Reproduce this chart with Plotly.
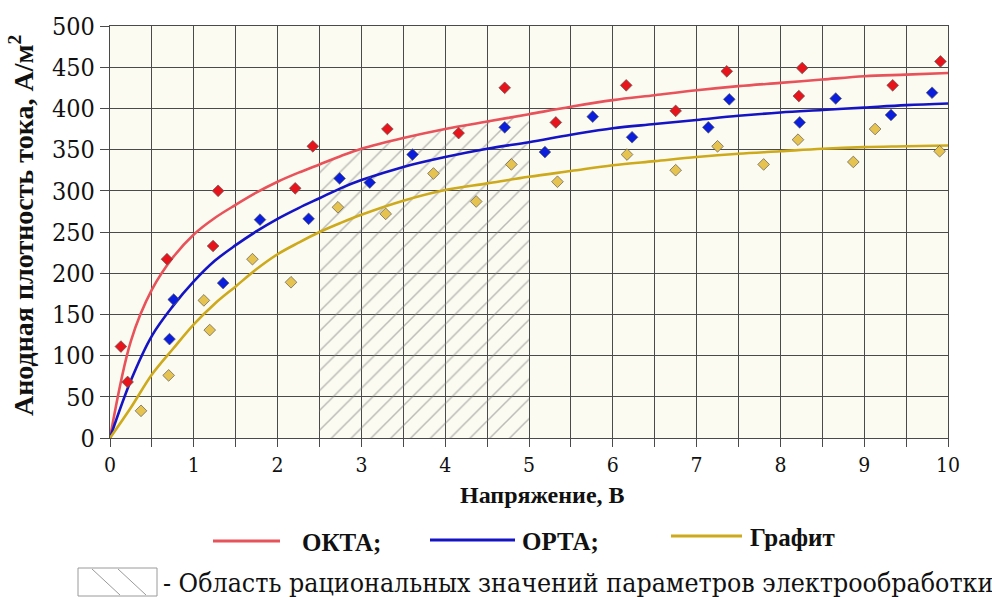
import plotly.graph_objects as go

# Measured points: anode current density (A/m^2) vs voltage (V)
okta_x = [0.13, 0.21, 0.68, 1.23, 1.29, 2.21, 2.42, 3.31, 4.16, 4.71, 5.32, 6.16, 6.75, 7.36, 8.22, 8.26, 9.34, 9.91]
okta_y = [111, 68, 217, 233, 300, 303, 354, 375, 370, 425, 383, 428, 397, 445, 415, 449, 428, 457]

orta_x = [0.71, 0.76, 1.35, 1.79, 2.37, 2.74, 3.10, 3.61, 4.71, 5.19, 5.76, 6.23, 7.14, 7.39, 8.23, 8.66, 9.32, 9.81]
orta_y = [120, 168, 188, 265, 266, 315, 310, 344, 377, 347, 390, 365, 377, 411, 383, 412, 392, 419]

graf_x = [0.37, 0.70, 1.12, 1.19, 1.70, 2.16, 2.72, 3.29, 3.86, 4.37, 4.79, 5.34, 6.17, 6.75, 7.25, 7.80, 8.21, 8.87, 9.13, 9.90]
graf_y = [33, 76, 167, 131, 217, 189, 280, 272, 321, 287, 332, 311, 344, 325, 354, 332, 362, 335, 375, 348]

# Approximating curves
curve_x = [0, 0.25, 0.5, 0.75, 1, 1.25, 1.5, 1.75, 2, 2.25, 2.5, 2.75, 3,
           3.5, 4, 4.5, 5, 5.5, 6, 6.5, 7, 7.5, 8, 8.5, 9, 9.5, 10]
okta_fit = [0, 118, 180, 219, 247, 267, 283, 298, 311, 322, 332, 342, 351,
            364, 375, 384, 393, 402, 410, 416, 422, 427, 431, 435, 439, 441, 443]
orta_fit = [0, 70, 124, 160, 190, 215, 234, 251, 266, 279, 291, 303, 313,
            329, 341, 351, 359, 368, 376, 381, 386, 391, 395, 398, 401, 404, 406]
graf_fit = [0, 37, 77, 108, 138, 163, 184, 205, 223, 237, 250, 261, 271,
            288, 301, 309, 317, 324, 331, 336, 341, 345, 348, 351, 353, 354, 355]

# Rational range of electro-treatment voltage
zone_lo, zone_hi = 2.5, 5.0

x_ticks = list(range(0, 11))
y_ticks = list(range(0, 501, 50))

FONT_B = "Liberation Serif, Times New Roman, serif"
FONT_R = "DejaVu Serif Condensed, DejaVu Serif, serif"
RED_LINE, RED_PT = "#E8525A", "#E8141B"
BLUE_LINE, BLUE_PT = "#1414C4", "#0A1EDC"
GOLD_LINE, GOLD_PT = "#CDA91C", "#E6C34E"

fig = go.Figure()

# hatched zone under the OKTA curve
zx = [x for x in curve_x if zone_lo <= x <= zone_hi]
zy = [y for x, y in zip(curve_x, okta_fit) if zone_lo <= x <= zone_hi]
fig.add_trace(go.Scatter(
    x=[zone_lo] + zx + [zone_hi, zone_lo],
    y=[0] + zy + [0, 0],
    mode="lines", line=dict(width=0, color="rgba(0,0,0,0)"),
    fill="toself", fillcolor="rgba(0,0,0,0)",
    fillpattern=dict(shape="/", size=14, solidity=0.11,
                     fgcolor="#7c7c7c", bgcolor="rgba(0,0,0,0)"),
    hoverinfo="skip", showlegend=False))

for xs, ys, col in [(curve_x, okta_fit, RED_LINE), (curve_x, orta_fit, BLUE_LINE),
                    (curve_x, graf_fit, GOLD_LINE)]:
    fig.add_trace(go.Scatter(x=xs, y=ys, mode="lines",
                             line=dict(color=col, width=2.6, shape="spline", smoothing=1.0),
                             showlegend=False))

for xs, ys, col in [(okta_x, okta_y, RED_PT), (orta_x, orta_y, BLUE_PT), (graf_x, graf_y, GOLD_PT)]:
    fig.add_trace(go.Scatter(x=xs, y=ys, mode="markers",
                             marker=dict(symbol="diamond", size=9, color=col,
                                         line=dict(color="#5a5a5a", width=0.7)),
                             showlegend=False))

GRID = "#4a4a4a"
fig.update_xaxes(range=[0, 10], tickvals=x_ticks, ticktext=[str(v) for v in x_ticks],
                 showgrid=True, gridcolor=GRID, gridwidth=1.2,
                 ticks="outside", ticklen=8, tickcolor=GRID, tickwidth=1,
                 minor=dict(dtick=0.5, showgrid=True, gridcolor=GRID, gridwidth=1.2,
                            ticks="outside", ticklen=8, tickcolor=GRID),
                 showline=True, linecolor=GRID, linewidth=1.2, mirror=True,
                 zeroline=False,
                 tickfont=dict(family=FONT_R, size=21, color="#111"))
fig.update_yaxes(range=[0, 500], tickvals=y_ticks, ticktext=[str(v) for v in y_ticks],
                 showgrid=True, gridcolor=GRID, gridwidth=1.2,
                 ticks="outside", ticklen=9, tickcolor=GRID, tickwidth=1,
                 showline=True, linecolor=GRID, linewidth=1.2, mirror=True,
                 zeroline=False,
                 tickfont=dict(family=FONT_R, size=25, color="#111"))

W, H = 992, 597
L, R, T, B = 110, 44, 26, 159
pw, ph = W - L - R, H - T - B


def px(xp):
    return (xp - L) / pw


def py(yp):
    return (H - B - yp) / ph


ann = []
ann.append(dict(text="<b>Анодная плотность тока, А/м<sup>2</sup></b>", textangle=-90,
                x=px(21), y=py(226), xref="paper", yref="paper", showarrow=False,
                xanchor="center", yanchor="middle",
                font=dict(family=FONT_B, size=28, color="#111")))
ann.append(dict(text="<b>Напряжение, В</b>", x=px(542), y=py(495), xref="paper", yref="paper",
                xanchor="center", yanchor="middle",
                showarrow=False, font=dict(family=FONT_B, size=24, color="#111")))

shapes = []
legend_items = [("ОКТА;", RED_LINE, 213, 280, 541, 300),
                ("ОРТА;", BLUE_LINE, 430, 515, 540, 520),
                ("Графит", GOLD_LINE, 671, 742, 536, 748)]
for label, col, x0, x1, yy, tx in legend_items:
    shapes.append(dict(type="line", xref="paper", yref="paper",
                       x0=px(x0), x1=px(x1), y0=py(yy), y1=py(yy),
                       line=dict(color=col, width=3)))
    ann.append(dict(text="<b>" + label + "</b>", x=px(tx), y=py(yy + 1), xref="paper", yref="paper",
                    xanchor="left", yanchor="middle", showarrow=False,
                    font=dict(family=FONT_B, size=25, color="#111")))

# hatch sample box
shapes.append(dict(type="rect", xref="paper", yref="paper",
                   x0=px(78), x1=px(157), y0=py(596), y1=py(568),
                   line=dict(color="#9a9a9a", width=1)))
for a, b in [(92, 120), (118, 146)]:
    shapes.append(dict(type="line", xref="paper", yref="paper",
                       x0=px(a), x1=px(b), y0=py(569), y1=py(595),
                       line=dict(color="#9a9a9a", width=1)))
ann.append(dict(text="- Область рациональных значений параметров электрообработки",
                x=px(161), y=py(582), xref="paper", yref="paper", xanchor="left",
                yanchor="middle", showarrow=False,
                font=dict(family=FONT_R, size=26.5, color="#111")))

fig.update_layout(width=W, height=H, margin=dict(l=L, r=R, t=T, b=B),
                  paper_bgcolor="white", plot_bgcolor="#FCFBF1",
                  annotations=ann, shapes=shapes, showlegend=False)

fig.write_html("out.html")
